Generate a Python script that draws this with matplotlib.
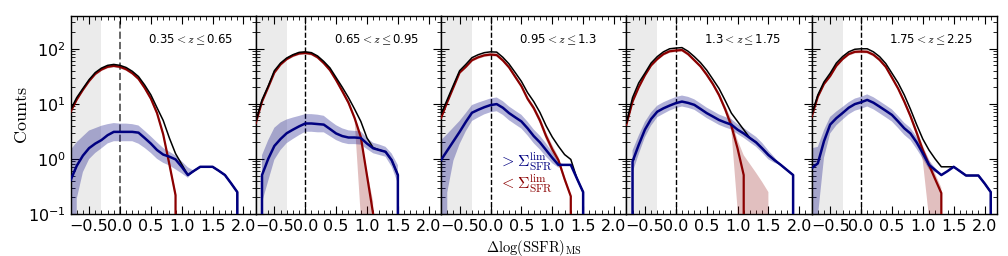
import numpy as np
import matplotlib
matplotlib.use('Agg')
import matplotlib.pyplot as plt

plt.rcParams['mathtext.fontset'] = 'cm'
plt.rcParams['xtick.direction'] = 'in'
plt.rcParams['ytick.direction'] = 'in'
plt.rcParams['xtick.top'] = True
plt.rcParams['ytick.right'] = True

inf = np.inf

# bin centres of Delta log(SSFR)_MS
bins = [-0.8, -0.7, -0.6, -0.5, -0.4, -0.3, -0.2, -0.1, 0.0, 0.1, 0.2, 0.3, 0.4, 0.5, 0.6, 0.7,
        0.8, 0.9, 1.0, 1.1, 1.2, 1.3, 1.4, 1.5, 1.6, 1.7, 1.8, 1.9, 2.0, 2.1, 2.2]

z_labels = [r'0.35$<z\leq$0.65', r'0.65$<z\leq$0.95', r'0.95$<z\leq$1.3',
            r'1.3$<z\leq$1.75', r'1.75$<z\leq$2.25']

# ---- 0.35 < z <= 0.65
all1 = [7.8, 13, 19, 27.5, 37, 44.6, 50, 52, 50, 45.7, 39, 31.3, 22, 14.6, 8.5, 5, 2.4, 1.25, 0.8, 0.51,
        0.61, 0.72, 0.72, 0.72, 0.61, 0.51, 0.36, 0.25, 0, 0, 0]
low1 = [7.2, 12, 18, 26, 35, 42, 47, 49, 47, 42.5, 36, 28.5, 19.5, 12.5, 6.8, 2.8, 0.8, 0.22, 0, 0,
        0, 0, 0, 0, 0, 0, 0, 0, 0, 0, 0]
high1 = [0.41, 0.75, 1.15, 1.57, 1.9, 2.2, 2.7, 3.1, 3.1, 3.1, 3.1, 3.0, 2.4, 1.9, 1.45, 1.2, 1.1, 0.98, 0.72, 0.51,
         0.61, 0.72, 0.72, 0.72, 0.61, 0.51, 0.36, 0.25, 0, 0, 0]
high1_up = [0.55, 0.43, 0.35, 0.32, 0.28, 0.26, 0.2, 0.16, 0.15, 0.15, 0.14, 0.13, 0.13, 0.13, 0.14, 0.12, 0.09, 0.07,
            0.1, 0.14, 0, 0, 0, 0, 0, 0, 0, 0, 0, 0, 0]
high1_dn = [inf, 0.6, 0.3, 0.2, 0.17, 0.15, 0.15, 0.17, 0.17, 0.17, 0.17, 0.2, 0.18, 0.17, 0.16, 0.15, 0.16, 0.18,
            0.12, 0.05, 0, 0, 0, 0, 0, 0, 0, 0, 0, 0, 0]
low1_up = [0.04, 0.04, 0.03, 0.03, 0.03, 0.03, 0.03, 0.03, 0.03, 0.03, 0.03, 0.03, 0.03, 0.04, 0.04, 0.05, 0.06, 0.08,
           0, 0, 0, 0, 0, 0, 0, 0, 0, 0, 0, 0, 0]
low1_dn = [0.04, 0.04, 0.03, 0.03, 0.03, 0.03, 0.03, 0.03, 0.03, 0.03, 0.03, 0.03, 0.03, 0.04, 0.04, 0.05, 0.06, 0.08,
           0, 0, 0, 0, 0, 0, 0, 0, 0, 0, 0, 0, 0]

# ---- 0.65 < z <= 0.95
all2 = [4.8, 11.8, 21, 40, 55, 68, 78, 86, 88, 85, 74, 59, 45, 30, 20, 13, 8, 4.8, 2.4, 1.6,
        1.45, 1.35, 0.95, 0.51, 0, 0, 0, 0, 0, 0, 0]
low2 = [4.5, 11, 20, 37, 52, 65, 75, 82, 84, 81, 70, 55, 41, 27, 17, 10.5, 5.5, 2.5, 0.5, 0.1,
        0, 0, 0, 0, 0, 0, 0, 0, 0, 0, 0]
high2 = [0, 0.51, 1.0, 1.72, 2.3, 2.93, 3.4, 3.9, 4.4, 4.4, 4.3, 4.2, 3.5, 2.9, 2.6, 2.45, 2.45, 2.4, 1.9, 1.56,
         1.45, 1.35, 0.95, 0.51, 0, 0, 0, 0, 0, 0, 0]
high2_up = [0, 0.36, 0.34, 0.33, 0.3, 0.25, 0.22, 0.19, 0.17, 0.17, 0.17, 0.16, 0.15, 0.15, 0.14, 0.13, 0.12, 0.12,
            0.1, 0.1, 0.1, 0.09, 0.12, 0.18, 0, 0, 0, 0, 0, 0, 0]
high2_dn = [0, 0.5, 0.4, 0.25, 0.2, 0.18, 0.17, 0.16, 0.15, 0.15, 0.15, 0.14, 0.13, 0.12, 0.12, 0.12, 0.12, 0.12,
            0.1, 0.09, 0.09, 0.09, 0.12, 0.15, 0, 0, 0, 0, 0, 0, 0]
low2_up = [0.04, 0.04, 0.03, 0.03, 0.03, 0.03, 0.03, 0.03, 0.03, 0.03, 0.03, 0.03, 0.03, 0.03, 0.04, 0.04, 0.04, 0.05,
           0.08, 0.23, 0, 0, 0, 0, 0, 0, 0, 0, 0, 0, 0]
low2_dn = [0.04, 0.04, 0.03, 0.03, 0.03, 0.03, 0.03, 0.03, 0.03, 0.03, 0.03, 0.03, 0.03, 0.03, 0.04, 0.04, 0.04, 1.45,
           inf, inf, 0, 0, 0, 0, 0, 0, 0, 0, 0, 0, 0]

# ---- 0.95 < z <= 1.3
all3 = [6.5, 12, 22, 40, 52, 69, 78, 85, 88, 87, 70, 53, 37, 25.6, 16, 11, 7, 4.0, 2.5, 1.7,
        1.2, 0.98, 0.44, 0.25, 0, 0, 0, 0, 0, 0, 0]
low3 = [5.6, 10.8, 20, 37, 47, 62, 70, 76, 78.5, 77, 61.5, 46, 31, 21, 12.4, 8.4, 5, 2.6, 1.5, 0.95,
        0.43, 0.21, 0, 0, 0, 0, 0, 0, 0, 0, 0]
high3 = [0.96, 1.42, 2.1, 3.1, 4.7, 6.9, 7.8, 8.7, 9.5, 9.9, 8.5, 6.8, 5.7, 4.8, 3.6, 2.6, 2.0, 1.45, 1.05, 0.78,
         0.78, 0.78, 0.44, 0.25, 0, 0, 0, 0, 0, 0, 0]
high3_up = [0.36, 0.3, 0.25, 0.2, 0.16, 0.14, 0.13, 0.12, 0.12, 0.12, 0.12, 0.12, 0.12, 0.12, 0.12, 0.12, 0.12, 0.12,
            0.1, 0.05, 0, 0, 0, 0, 0, 0, 0, 0, 0, 0, 0]
high3_dn = [inf, 0.76, 0.35, 0.22, 0.17, 0.15, 0.14, 0.13, 0.13, 0.13, 0.13, 0.13, 0.13, 0.13, 0.13, 0.13, 0.13, 0.12,
            0.1, 0.05, 0, 0, 0, 0, 0, 0, 0, 0, 0, 0, 0]
low3_up = [0.04, 0.04, 0.03, 0.03, 0.03, 0.03, 0.03, 0.03, 0.03, 0.03, 0.03, 0.03, 0.03, 0.03, 0.04, 0.05, 0.06, 0.07,
           0.08, 0.06, 0.05, 0.04, 0, 0, 0, 0, 0, 0, 0, 0, 0]
low3_dn = [0.04, 0.04, 0.03, 0.03, 0.03, 0.03, 0.03, 0.03, 0.03, 0.03, 0.03, 0.03, 0.03, 0.03, 0.04, 0.05, 0.06, 0.07,
           0.08, 0.06, 0.05, 0.04, 0, 0, 0, 0, 0, 0, 0, 0, 0]

# ---- 1.3 < z <= 1.75
all4 = [4.5, 13, 24, 36, 55, 72, 88, 100, 103, 105, 90, 72, 56, 41, 28, 19, 11.5, 6.8, 4.8, 3.4,
        2.4, 2.0, 1.55, 1.18, 0.95, 0.78, 0.63, 0.51, 0, 0, 0]
low4 = [4.2, 11, 20, 33, 50, 65, 80, 90, 93, 95, 80, 62, 48, 34, 23, 14.5, 8, 4.0, 1.56, 0.51,
        0, 0, 0, 0, 0, 0, 0, 0, 0, 0, 0]
high4 = [0, 0.9, 1.8, 3.4, 5.3, 7.2, 8.3, 9.3, 10.3, 11, 10.4, 9.6, 8.1, 6.8, 5.9, 5.1, 4.6, 4.2, 3.4, 2.9,
         2.4, 2.0, 1.55, 1.18, 0.95, 0.78, 0.63, 0.51, 0, 0, 0]
high4_up = [0, 0.2, 0.17, 0.14, 0.12, 0.11, 0.11, 0.11, 0.11, 0.11, 0.11, 0.1, 0.1, 0.1, 0.1, 0.1, 0.1, 0.1,
            0.1, 0.1, 0.1, 0.1, 0.1, 0.08, 0.05, 0, 0, 0, 0, 0, 0]
high4_dn = [0, 0.2, 0.17, 0.14, 0.12, 0.1, 0.1, 0.09, 0.09, 0.09, 0.09, 0.09, 0.09, 0.09, 0.09, 0.09, 0.09, 0.09,
            0.08, 0.08, 0.08, 0.08, 0.08, 0.08, 0.05, 0, 0, 0, 0, 0, 0]
low4_up = [0.04, 0.04, 0.03, 0.03, 0.03, 0.03, 0.03, 0.03, 0.03, 0.03, 0.03, 0.03, 0.03, 0.04, 0.04, 0.05, 0.06, 0.12,
           0.15, 0.36, 0, 0, 0, 0, 0, 0, 0, 0, 0, 0, 0]
low4_dn = [0.04, 0.04, 0.03, 0.03, 0.03, 0.03, 0.03, 0.03, 0.03, 0.03, 0.03, 0.03, 0.03, 0.04, 0.04, 0.05, 0.06, 0.08,
           1.1, inf, 0, 0, 0, 0, 0, 0, 0, 0, 0, 0, 0]
# upper envelope of the <Sigma band past the last populated bin
low4_cap = [0, 0, 0, 0, 0, 0, 0, 0, 0, 0, 0, 0, 0, 0, 0, 0, 0, 0, 0, 0,
            0.81, 0.56, 0.38, 0.25, 0, 0, 0, 0, 0, 0, 0]

# ---- 1.75 < z <= 2.25
all5 = [6.3, 14.5, 25, 36, 55, 72, 88, 98, 100, 100, 88, 72, 54, 36, 24, 14.5, 8, 4.2, 2.3, 1.45,
        1.0, 0.72, 0.72, 0.72, 0.6, 0.5, 0.5, 0.5, 0.36, 0.25, 0]
low5 = [5.8, 13.5, 23, 32, 49, 65, 80, 88, 89, 88, 78, 63, 47, 30, 19, 11, 6, 3.0, 1.45, 0.78,
        0.43, 0.24, 0, 0, 0, 0, 0, 0, 0, 0, 0]
high5 = [0.68, 0.83, 2.1, 4.2, 5.5, 6.8, 8.5, 9.9, 10.7, 11.8, 10.5, 8.9, 7.5, 6.3, 4.8, 3.6, 2.9, 2.0, 1.27, 0.78,
         0.63, 0.51, 0.6, 0.72, 0.6, 0.5, 0.5, 0.5, 0.36, 0.25, 0]
high5_up = [0.36, 0.3, 0.2, 0.14, 0.12, 0.11, 0.1, 0.1, 0.1, 0.1, 0.1, 0.1, 0.1, 0.1, 0.1, 0.1, 0.1, 0.1,
            0.1, 0.08, 0.04, 0, 0, 0, 0, 0, 0, 0, 0, 0, 0]
high5_dn = [inf, 0.97, 0.3, 0.16, 0.13, 0.12, 0.12, 0.12, 0.12, 0.12, 0.12, 0.12, 0.12, 0.12, 0.12, 0.12, 0.12, 0.12,
            0.1, 0.08, 0.04, 0, 0, 0, 0, 0, 0, 0, 0, 0, 0]
low5_up = [0.04, 0.04, 0.03, 0.03, 0.03, 0.03, 0.03, 0.03, 0.03, 0.03, 0.03, 0.03, 0.03, 0.03, 0.03, 0.04, 0.05, 0.06,
           0.08, 0.1, 0.1, 0.1, 0, 0, 0, 0, 0, 0, 0, 0, 0]
low5_dn = [0.04, 0.04, 0.03, 0.03, 0.03, 0.03, 0.03, 0.03, 0.03, 0.03, 0.03, 0.03, 0.03, 0.03, 0.03, 0.04, 0.05, 0.06,
           0.2, 0.95, inf, inf, 0, 0, 0, 0, 0, 0, 0, 0, 0]

panels = [
    (all1, low1, high1, high1_up, high1_dn, low1_up, low1_dn, None),
    (all2, low2, high2, high2_up, high2_dn, low2_up, low2_dn, None),
    (all3, low3, high3, high3_up, high3_dn, low3_up, low3_dn, None),
    (all4, low4, high4, high4_up, high4_dn, low4_up, low4_dn, low4_cap),
    (all5, low5, high5, high5_up, high5_dn, low5_up, low5_dn, None),
]

navy = '#000080'
dred = '#8b0000'
x = np.array(bins)

fig, axes = plt.subplots(1, 5, figsize=(10.08, 2.56), dpi=100, sharey=True)
fig.subplots_adjust(left=0.070, right=0.989, bottom=0.164, top=0.939, wspace=0)

for i, ax in enumerate(axes):
    tot, lo_s, hi_s, hup, hdn, lup, ldn, cap = [None if a is None else np.array(a, dtype=float)
                                                for a in panels[i]]
    ax.set_yscale('log', nonpositive='clip')
    ax.axvspan(-0.8, -0.3, color='0.92', lw=0, zorder=0)
    if i == 0:
        ax.axvline(0, ls='--', color='0.4', lw=1.4, zorder=1)
    else:
        ax.axvline(0, ls='--', color='k', lw=1.0, zorder=1)

    red_top = lo_s * 10 ** lup
    if cap is not None:
        red_top = np.maximum(red_top, cap)
    ax.fill_between(x, lo_s * 10 ** (-ldn), red_top, color=dred, alpha=0.25, lw=0, zorder=2)
    ax.fill_between(x, hi_s * 10 ** (-hdn), hi_s * 10 ** hup, color=navy, alpha=0.3, lw=0, zorder=2)

    ax.plot(x, lo_s, color=dred, lw=1.6, zorder=3)
    ax.plot(x, tot, color='k', lw=1.1, zorder=4)
    ax.plot(x, hi_s, color=navy, lw=1.8, zorder=5)

    ax.text(0.42, 0.88, z_labels[i], transform=ax.transAxes, fontsize=8.5,
            ha='left', va='center')

    ax.set_xlim(-0.8, 2.2)
    ax.set_ylim(0.1, 400)
    ax.set_xticks([-0.5, 0.0, 0.5, 1.0, 1.5, 2.0])
    ax.set_xticks(np.arange(-0.8, 2.21, 0.1), minor=True)
    ax.tick_params(which='major', length=6, width=0.8, labelsize=11.5)
    ax.tick_params(which='minor', length=3, width=0.6)
    for s in ax.spines.values():
        s.set_linewidth(1.0)

axes[2].text(0.31, 0.265, r'$>\Sigma^{\rm lim}_{\rm SFR}$', transform=axes[2].transAxes,
             color=navy, fontsize=11.5, va='center')
axes[2].text(0.31, 0.15, r'$<\Sigma^{\rm lim}_{\rm SFR}$', transform=axes[2].transAxes,
             color=dred, fontsize=11.5, va='center')

axes[0].set_ylabel(r'$\mathrm{Counts}$', fontsize=13)
axes[0].yaxis.set_label_coords(-0.215, 0.5)
axes[2].set_xlabel(r'$\Delta\log(\mathrm{SSFR})_{\mathrm{MS}}$', fontsize=10.5)
axes[2].xaxis.set_label_coords(0.5, -0.12)

fig.savefig('out.png', dpi=100)
